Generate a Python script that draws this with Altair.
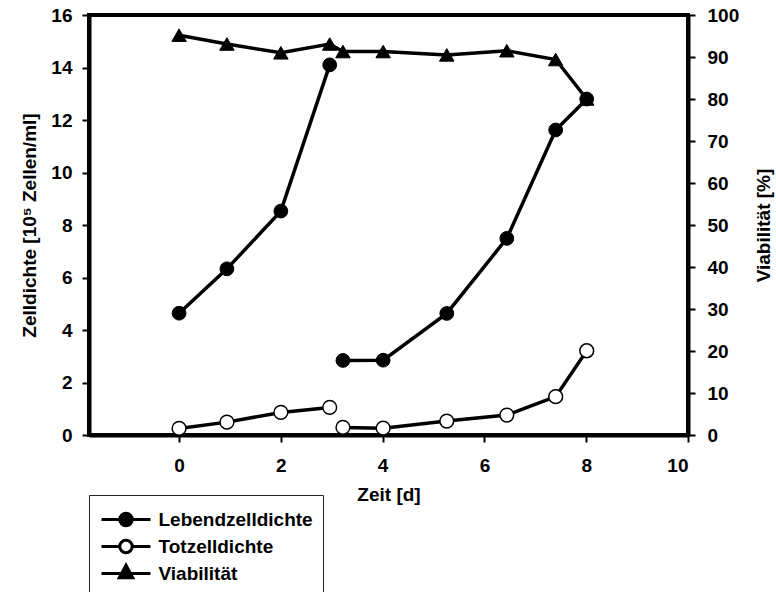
import altair as alt
import pandas as pd

# ---- data ----
days = [0, 0.94, 2.0, 2.96, 3.22, 4.01, 5.26, 6.44, 7.40, 8.01]
run = [1, 1, 1, 1, 2, 2, 2, 2, 2, 2]
live = [4.64, 6.33, 8.53, 14.1, 2.84, 2.85, 4.63, 7.49, 11.62, 12.8]   # Lebendzelldichte [1e5 Zellen/ml]
dead = [0.25, 0.49, 0.86, 1.05, 0.29, 0.26, 0.53, 0.76, 1.46, 3.21]   # Totzelldichte
viab = [95.2, 93.1, 91.0, 93.1, 91.3, 91.3, 90.5, 91.5, 89.4, 80.0]   # Viabilität [%]

series = ["Lebendzelldichte", "Totzelldichte", "Viabilität"]
x_ticks = [0, 2, 4, 6, 8, 10]
yl_ticks = [0, 2, 4, 6, 8, 10, 12, 14, 16]
yr_ticks = [0, 10, 20, 30, 40, 50, 60, 70, 80, 90, 100]

df = pd.DataFrame({"Zeit": days, "run": run, "live": live, "dead": dead, "viab": viab})
legend_df = pd.DataFrame({"Serie": series})

FONT = "Liberation Sans"
FS = 19
LW = 3.5

xscale = alt.Scale(domain=[-1.77, 10], nice=False, zero=False)
xaxis = alt.Axis(values=x_ticks, title="Zeit [d]", labelPadding=14, titlePadding=10)
x = alt.X("Zeit:Q", scale=xscale, axis=xaxis)

yl_scale = alt.Scale(domain=[0, 16], nice=False)
yl_axis = alt.Axis(values=yl_ticks, title="Zelldichte [10\u2075 Zellen/ml]", orient="left",
                   labelPadding=10, titlePadding=11)
yr_scale = alt.Scale(domain=[0, 100], nice=False)
yr_axis = alt.Axis(values=yr_ticks, title="Viabilität [%]", orient="right",
                   labelPadding=12, titlePadding=35, titleAngle=270)

base = alt.Chart(df)

live_line = base.mark_line(color="black", strokeWidth=LW).encode(
    x=x, y=alt.Y("live:Q", scale=yl_scale, axis=yl_axis), detail="run:N")
live_pts = base.mark_point(shape="circle", filled=True, fill="black", stroke="black",
                           strokeWidth=1, size=190, opacity=1).encode(
    x=x, y=alt.Y("live:Q", scale=yl_scale, axis=yl_axis))
dead_line = base.mark_line(color="black", strokeWidth=LW).encode(
    x=x, y=alt.Y("dead:Q", scale=yl_scale, axis=yl_axis), detail="run:N")
dead_pts = base.mark_point(shape="circle", filled=True, fill="white", stroke="black",
                           strokeWidth=1.5, size=190, opacity=1).encode(
    x=x, y=alt.Y("dead:Q", scale=yl_scale, axis=yl_axis))

left = alt.layer(live_line, dead_line, live_pts, dead_pts)

viab_line = base.mark_line(color="black", strokeWidth=LW).encode(
    x=x, y=alt.Y("viab:Q", scale=yr_scale, axis=yr_axis))
viab_pts = base.mark_point(shape="triangle-up", filled=True, fill="black", stroke="black",
                           strokeWidth=1, size=210, opacity=1).encode(
    x=x, y=alt.Y("viab:Q", scale=yr_scale, axis=yr_axis))
right = alt.layer(viab_line, viab_pts)

# legend symbols: line with marker (symbol scale unit = 13 px)
circle_path = ("M-1.885,0L-0.48,0M0.48,0L1.885,0"
               "M0.48,0A0.48,0.48,0,1,1,-0.48,0A0.48,0.48,0,1,1,0.48,0Z")
tri_path = "M-1.885,0L1.885,0M-0.52,0.33L0,-0.64L0.52,0.33Z"

leg = alt.Legend(title=None, orient="none", legendX=0, legendY=480,
                 strokeColor="#222", padding=10, symbolOpacity=1,
                 symbolSize=676, symbolOffset=12.5, symbolStrokeWidth=3,
                 labelFont=FONT, labelFontSize=FS, labelFontWeight="bold", labelColor="black",
                 labelOffset=18, rowPadding=0,
                 labelExpr="datum.label + '\u00a0\u00a0\u00a0'")

legend_layer = alt.Chart(legend_df).mark_point(filled=True, opacity=0, stroke="black",
                                               strokeWidth=3).encode(
    shape=alt.Shape("Serie:N", scale=alt.Scale(domain=series, range=[circle_path, circle_path, tri_path]), legend=leg),
    fill=alt.Fill("Serie:N", scale=alt.Scale(domain=series, range=["black", "white", "black"]), legend=leg),
)

chart = alt.layer(left, right, legend_layer).resolve_scale(y="independent").properties(
    width=599, height=420,
    padding={"left": 89, "top": 15, "right": 88, "bottom": 157},
    autosize=alt.AutoSizeParams(type="none"),
    background="white",
).configure_view(stroke="black", strokeWidth=4).configure_axis(
    grid=False, domainColor="black", domainWidth=4, tickColor="black", tickWidth=2, tickSize=7,
    labelFont=FONT, labelFontSize=FS, labelFontWeight="bold", labelColor="black",
    titleFont=FONT, titleFontSize=FS, titleFontWeight="bold", titleColor="black",
)

chart.save("out.html", embed_options={"renderer": "svg", "actions": False})
